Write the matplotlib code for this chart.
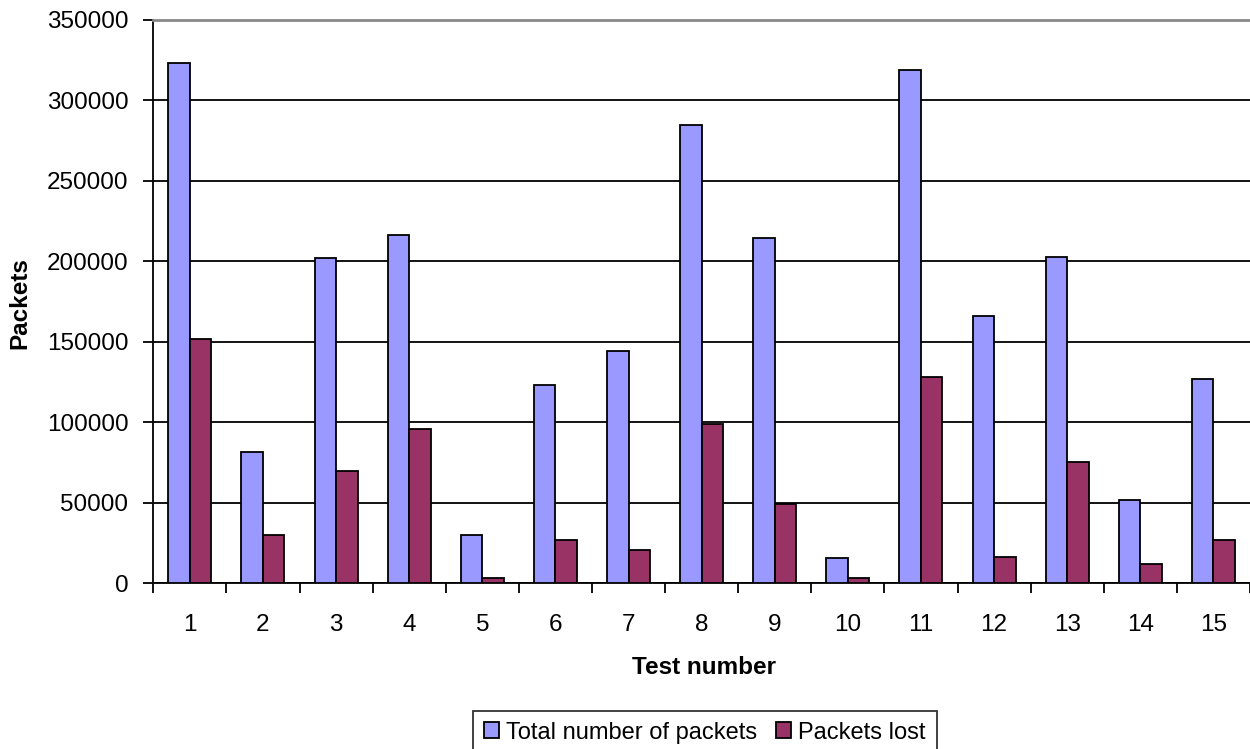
import matplotlib
matplotlib.use("Agg")
import matplotlib.pyplot as plt
import numpy as np

plt.rcParams['font.family'] = ['Liberation Sans', 'DejaVu Sans']

tests = [str(i) for i in range(1, 16)]
total_packets = [323000, 81500, 202000, 216500, 30000, 123500, 144500, 284700,
                 214500, 15500, 318700, 166000, 203000, 51500, 126800]
packets_lost = [151500, 30000, 70000, 96000, 3000, 27000, 20700, 99000,
                49300, 3000, 128000, 16500, 75300, 12300, 27000]
yticks = [0, 50000, 100000, 150000, 200000, 250000, 300000, 350000]

W, H = 1250, 749
fig = plt.figure(figsize=(W / 100, H / 100), dpi=100)
left, right, top, bottom = 153.3, 1250, 20, 583.3
ax = fig.add_axes([left / W, 1 - bottom / H, (right - left) / W, (bottom - top) / H])

x = np.arange(1, len(tests) + 1)
bw = 0.294
ax.bar(x - bw / 2, total_packets, bw, color='#9999FF', edgecolor='black', linewidth=1.3,
       label='Total number of packets', zorder=3)
ax.bar(x + bw / 2, packets_lost, bw, color='#993366', edgecolor='black', linewidth=1.3,
       label='Packets lost', zorder=3)

cat_px = 73.6
ax.set_xlim(0.5, 0.5 + (right - left) / cat_px)
ax.set_ylim(0, 350000)
ax.set_yticks(yticks)
ax.set_yticklabels([str(v) for v in yticks])
ax.set_xticks(x)
ax.set_xticklabels(tests)
ax.set_xticks(np.arange(0.5, 16, 1), minor=True)
ax.tick_params(axis='x', which='major', length=0, pad=22, labelsize=17.5)
ax.tick_params(axis='x', which='minor', length=7, width=1.3, direction='out')
ax.tick_params(axis='y', length=7, width=1.3, direction='out', pad=11, labelsize=17.5)

ax.yaxis.grid(True, color='black', linewidth=1.3, zorder=0)
ax.set_axisbelow(True)
ax.spines['right'].set_visible(False)
ax.spines['top'].set_color('#888888')
ax.spines['top'].set_linewidth(2)
ax.spines['left'].set_linewidth(1.3)
ax.spines['bottom'].set_linewidth(1.3)

fig.text(20 / W, 1 - 303 / H, 'Packets', rotation=90, ha='center', va='center',
         fontsize=17.5, fontweight='bold')
fig.text(704 / W, 1 - 668 / H, 'Test number', ha='center', va='center',
         fontsize=17.5, fontweight='bold')

leg = fig.legend(loc='upper left', bbox_to_anchor=(473 / W, 1 - 711 / H), ncol=2,
                 fontsize=17, frameon=True, fancybox=False, edgecolor='black',
                 handlelength=0.65, handleheight=0.65, handletextpad=0.3,
                 columnspacing=0.8, borderpad=0.45, borderaxespad=0)
leg.get_frame().set_linewidth(1.3)

fig.savefig('out.png', dpi=100)
